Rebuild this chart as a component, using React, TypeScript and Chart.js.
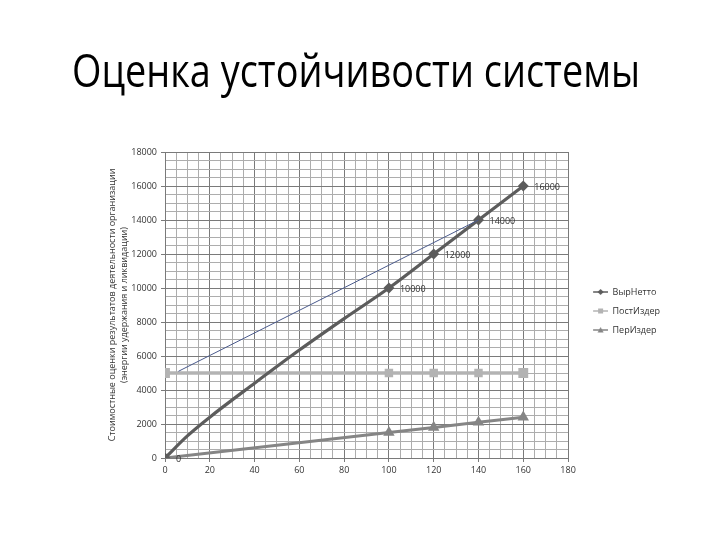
import { useEffect, useRef } from 'react';
import { Chart, registerables } from 'chart.js';

Chart.register(...registerables);

const chartTitle = 'Оценка устойчивости системы';
const yAxisTitle = [
  'Стоимостные оценки результатов деятельности организации',
  '(энергии удержания и ликвидации)',
];
const seriesNames = ['ВырНетто', 'ПостИздер', 'ПерИздер'];

// x values with markers
const xValues = [0, 100, 120, 140, 160];
const vyrNetto = [0, 10000, 12000, 14000, 16000];
const postIzder = [5000, 5000, 5000, 5000, 5000];
const perIzder = [0, 1500, 1800, 2100, 2400];

const vyrNettoCurveX = [10, 20, 40, 60, 80];
const vyrNettoCurveY = [1300, 2400, 4400, 6350, 8200];

// thin drawn line
const tangentX = [6, 140];
const tangentY = [5100, 14000];

const xMin = 0, xMax = 180, xMajor = 20, xMinor = 5;
const yMin = 0, yMax = 18000, yMajor = 2000, yMinor = 500;

const colNet = '#5c5c5c';
const colPost = '#b3b3b3';
const colPer = '#858585';
const colTangent = '#4a5a8c';
const gridMajor = '#7a7a7a';
const gridMinor = '#adadad';

function makeIcon(color: string, shape: string, lw: number): HTMLCanvasElement {
  const c = document.createElement('canvas');
  c.width = 30;
  c.height = 10;
  const g = c.getContext('2d')!;
  g.strokeStyle = color;
  g.fillStyle = color;
  g.lineWidth = lw;
  g.beginPath();
  g.moveTo(15, 5);
  g.lineTo(30, 5);
  g.stroke();
  const cx = 22.5, cy = 5;
  g.beginPath();
  if (shape === 'diamond') {
    g.moveTo(cx, cy - 3); g.lineTo(cx + 3, cy); g.lineTo(cx, cy + 3); g.lineTo(cx - 3, cy);
  } else if (shape === 'square') {
    g.rect(cx - 2.5, cy - 2.5, 5, 5);
  } else {
    g.moveTo(cx, cy - 3); g.lineTo(cx + 3, cy + 2.5); g.lineTo(cx - 3, cy + 2.5);
  }
  g.closePath();
  g.fill();
  return c;
}

const titlePlugin = {
  id: 'pageTitle',
  afterDraw(chart: any) {
    const ctx = chart.ctx;
    ctx.save();
    ctx.font = '46px "Open Sans"';
    ctx.fillStyle = '#000';
    ctx.textAlign = 'center';
    ctx.textBaseline = 'alphabetic';
    const w = ctx.measureText(chartTitle).width;
    const sx = 568 / w;
    ctx.translate(356, 87);
    ctx.scale(sx, 1);
    ctx.fillText(chartTitle, 0, 0);
    ctx.restore();
  },
};

const labelPlugin = {
  id: 'netLabels',
  afterDatasetsDraw(chart: any) {
    const meta = chart.getDatasetMeta(0);
    const ds = chart.data.datasets[0];
    const ctx = chart.ctx;
    ctx.save();
    ctx.font = '9px "Open Sans"';
    ctx.fillStyle = '#333';
    ctx.textAlign = 'left';
    ctx.textBaseline = 'middle';
    meta.data.forEach((pt: any, i: number) => {
      const d = ds.data[i];
      if (xValues.indexOf(d.x) >= 0) {
        ctx.fillText(String(d.y), pt.x + 11, pt.y + 1);
      }
    });
    ctx.restore();
  },
};

export default function App() {
  const ref = useRef<HTMLCanvasElement | null>(null);

  useEffect(() => {
    if (!ref.current) return;
    document.body.style.margin = '0';

    const netPts = xValues
      .map((x, i) => ({ x, y: vyrNetto[i], m: true }))
      .concat(vyrNettoCurveX.map((x, i) => ({ x, y: vyrNettoCurveY[i], m: false })))
      .sort((a, b) => a.x - b.x);

    const icons = [
      makeIcon(colNet, 'diamond', 1.5),
      makeIcon(colPost, 'square', 1.5),
      makeIcon(colPer, 'triangle', 1.5),
    ];

    const tickColor = (major: number) => (c: any) =>
      c.tick && c.tick.value % major === 0 ? gridMajor : 'rgba(0,0,0,0)';
    const gridColor = (major: number) => (c: any) =>
      c.tick && c.tick.value % major === 0 ? gridMajor : gridMinor;

    const chart = new Chart(ref.current, {
      type: 'line',
      data: {
        datasets: [
          {
            label: seriesNames[0],
            data: netPts.map((p) => ({ x: p.x, y: p.y })),
            borderColor: colNet,
            backgroundColor: colNet,
            borderWidth: 3.2,
            pointStyle: 'rectRot',
            pointRadius: netPts.map((p) => (p.m ? 3.2 : 0)),
            cubicInterpolationMode: 'monotone',
            order: 1,
          },
          {
            label: seriesNames[1],
            data: xValues.map((x, i) => ({ x, y: postIzder[i] })),
            borderColor: colPost,
            backgroundColor: colPost,
            borderWidth: 3.5,
            pointStyle: 'rect',
            pointRadius: [4.5, 3.5, 3.5, 3.5, 4.5],
            order: 2,
          },
          {
            label: seriesNames[2],
            data: xValues.map((x, i) => ({ x, y: perIzder[i] })),
            borderColor: colPer,
            backgroundColor: colPer,
            borderWidth: 3,
            pointStyle: 'triangle',
            pointRadius: 3.6,
            order: 3,
          },
          {
            label: '',
            data: tangentX.map((x, i) => ({ x, y: tangentY[i] })),
            borderColor: colTangent,
            backgroundColor: colTangent,
            borderWidth: 1,
            pointRadius: 0,
            order: 0,
          },
        ],
      },
      options: {
        responsive: false,
        animation: false,
        devicePixelRatio: 1,
        layout: { padding: { left: 100, right: 50, top: 152, bottom: 52 } },
        plugins: {
          tooltip: { enabled: false },
          title: { display: false },
          legend: {
            position: 'right',
            fullSize: false,
            title: { display: true, text: '', font: { size: 10, lineHeight: 1 }, padding: 1 },
            labels: {
              usePointStyle: true,
              pointStyleWidth: 30,
              boxHeight: 9,
              padding: 10,
              color: '#333',
              font: { family: '"Open Sans"', size: 9 },
              filter: (item: any) => item.text !== '',
              generateLabels: (ch: any) => {
                const items = Chart.defaults.plugins.legend.labels.generateLabels(ch);
                return items.map((it: any) => {
                  const idx = seriesNames.indexOf(it.text);
                  if (idx >= 0) it.pointStyle = icons[idx];
                  return it;
                });
              },
            },
          },
        },
        scales: {
          x: {
            type: 'linear',
            min: xMin,
            max: xMax,
            afterFit: (s: any) => { s.height = 30; },
            ticks: {
              stepSize: xMinor,
              autoSkip: false,
              maxRotation: 0,
              padding: 3,
              color: '#333',
              font: { family: '"Open Sans"', size: 9 },
              callback: (v: any) => (Number(v) % xMajor === 0 ? String(v) : ''),
            },
            grid: {
              color: gridColor(xMajor),
              tickColor: tickColor(xMajor),
              tickLength: 4,
              lineWidth: 1,
            },
            border: { color: gridMajor },
          },
          y: {
            type: 'linear',
            min: yMin,
            max: yMax,
            afterFit: (s: any) => { s.width = 65; },
            title: {
              display: true,
              text: yAxisTitle,
              color: '#333',
              font: { family: '"Open Sans"', size: 9, lineHeight: 1.33 },
              padding: { top: 6, bottom: 0 },
            },
            ticks: {
              stepSize: yMinor,
              autoSkip: false,
              padding: 4,
              color: '#333',
              font: { family: '"Open Sans"', size: 9 },
              callback: (v: any) => (Number(v) % yMajor === 0 ? String(v) : ''),
            },
            grid: {
              color: gridColor(yMajor),
              tickColor: tickColor(yMajor),
              tickLength: 4,
              lineWidth: 1,
            },
            border: { color: gridMajor },
          },
        },
      },
      plugins: [labelPlugin, titlePlugin],
    } as any);

    return () => chart.destroy();
  }, []);

  return (
    <div style={{ position: 'absolute', left: 0, top: 0, width: 720, height: 540, background: '#fff' }}>
      <canvas ref={ref} width={720} height={540} />
    </div>
  );
}
